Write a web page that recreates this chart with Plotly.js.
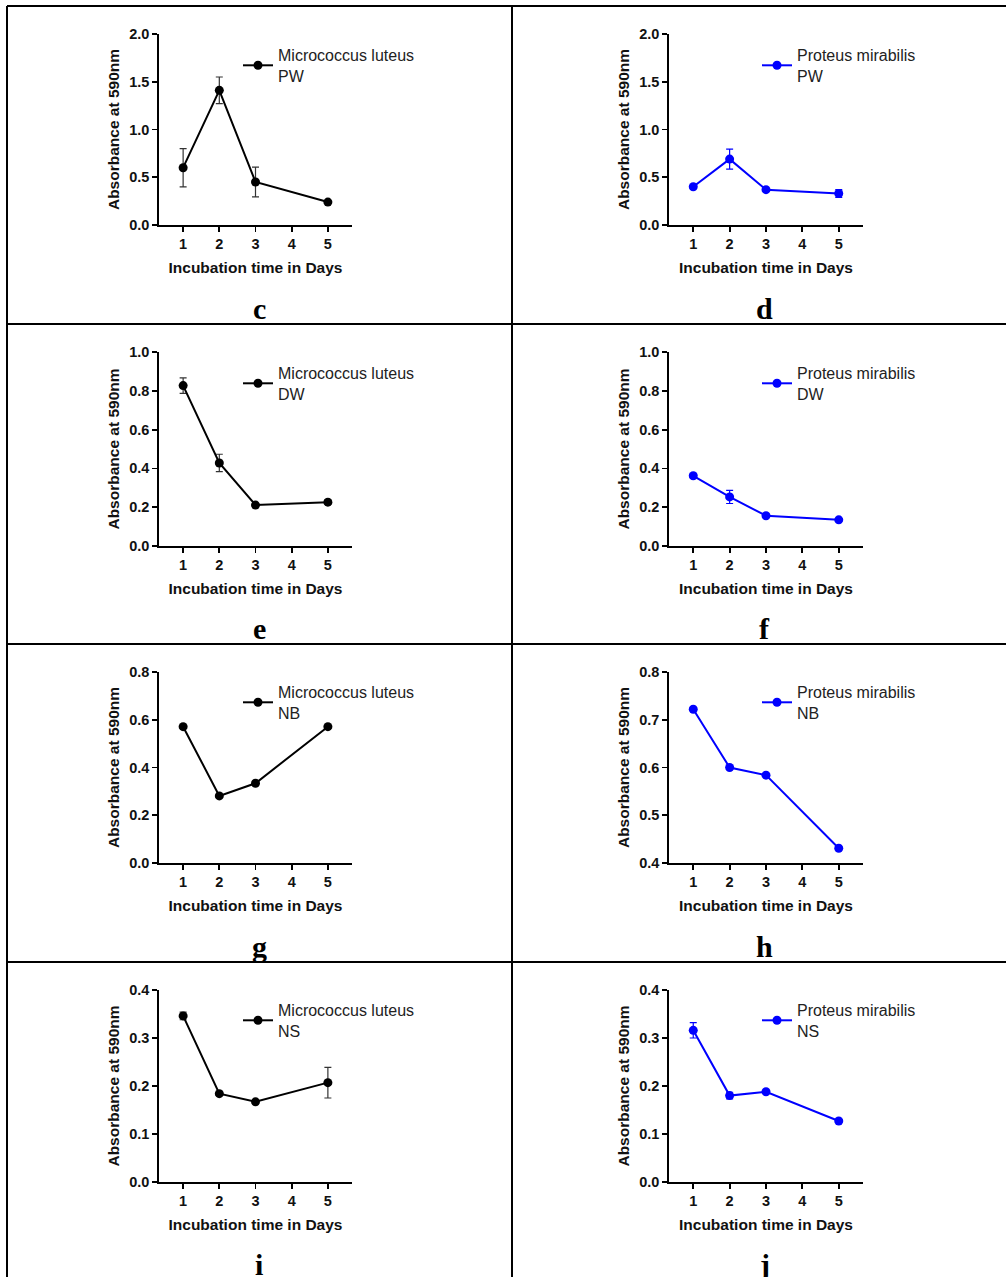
<!DOCTYPE html>
<html>
<head>
<meta charset="utf-8">
<script src="https://cdn.plot.ly/plotly-3.0.1.min.js"></script>
<style>html,body{margin:0;padding:0;background:#fff;}#chart{width:1006px;height:1277px;}</style>
</head>
<body>
<div id="chart"></div>
<script>
// ---- data ----
const days = [1, 2, 3, 5];
const dayTicks = [1, 2, 3, 4, 5];
const dayTickText = ["1", "2", "3", "4", "5"];

const mlPW = [0.60, 1.41, 0.45, 0.24];
const mlPWerr = [0.20, 0.14, 0.155, 0.01];
const pmPW = [0.40, 0.69, 0.37, 0.33];
const pmPWerr = [0.01, 0.105, 0.015, 0.04];

const mlDW = [0.827, 0.428, 0.211, 0.226];
const mlDWerr = [0.04, 0.045, 0.005, 0.012];
const pmDW = [0.362, 0.253, 0.156, 0.135];
const pmDWerr = [0.01, 0.034, 0.008, 0.006];

const mlNB = [0.571, 0.281, 0.334, 0.571];
const mlNBerr = [0, 0, 0, 0];
const pmNB = [0.722, 0.600, 0.584, 0.431];
const pmNBerr = [0, 0, 0, 0];

const mlNS = [0.346, 0.184, 0.167, 0.207];
const mlNSerr = [0.008, 0.003, 0.002, 0.032];
const pmNS = [0.316, 0.180, 0.188, 0.127];
const pmNSerr = [0.016, 0.007, 0.003, 0.003];

const seriesNames = ["Micrococcus luteus<br>PW", "Proteus mirabilis<br>PW",
                     "Micrococcus luteus<br>DW", "Proteus mirabilis<br>DW",
                     "Micrococcus luteus<br>NB", "Proteus mirabilis<br>NB",
                     "Micrococcus luteus<br>NS", "Proteus mirabilis<br>NS"];
const panelLetters = ["c", "d", "e", "f", "g", "h", "i", "j"];
const yRanges = [[0, 2], [0, 2], [0, 1], [0, 1], [0, 0.8], [0.4, 0.8], [0, 0.4], [0, 0.4]];
const yDticks = [0.5, 0.5, 0.2, 0.2, 0.2, 0.1, 0.1, 0.1];
const yValues = [mlPW, pmPW, mlDW, pmDW, mlNB, pmNB, mlNS, pmNS];
const yErrors = [mlPWerr, pmPWerr, mlDWerr, pmDWerr, mlNBerr, pmNBerr, mlNSerr, pmNSerr];
const xTitle = "Incubation time in Days";
const yTitle = "Absorbance at 590nm";

// ---- layout helpers ----
const W = 1006, H = 1277;
const px = v => v / W;
const py = v => 1 - v / H;
const colX = [[159, 352], [669, 863]];
const rowY = [[34, 225], [352, 546], [672, 863], [990, 1182]];
const legendTextX = [278, 797];
const legendTop = [38, 356, 675, 993];
const letterY = [309, 628, 946, 1264];
const letterX = [259, 764];
const colors = ["#000000", "#0000ff"];
const errColors = ["#333333", "#0000ff"];
const FONT = "Arial, 'Liberation Sans', sans-serif";

const traces = [];
const layout = {
  width: W, height: H,
  margin: {l: 0, r: 0, t: 0, b: 0},
  paper_bgcolor: "#fff", plot_bgcolor: "rgba(0,0,0,0)",
  font: {family: FONT, color: "#111"},
  showlegend: true,
  shapes: [], annotations: []
};

for (let i = 0; i < 8; i++) {
  const col = i % 2, row = Math.floor(i / 2);
  const n = i + 1;
  const xa = n === 1 ? "xaxis" : "xaxis" + n;
  const ya = n === 1 ? "yaxis" : "yaxis" + n;
  const lg = n === 1 ? "legend" : "legend" + n;
  traces.push({
    type: "scatter", mode: "lines+markers",
    x: days, y: yValues[i],
    xaxis: "x" + (n === 1 ? "" : n), yaxis: "y" + (n === 1 ? "" : n),
    name: seriesNames[i], legend: lg,
    line: {color: colors[col], width: 2},
    marker: {color: colors[col], size: 9},
    error_y: {type: "data", array: yErrors[i], visible: true,
              color: errColors[col], thickness: 1.2, width: 3.5},
    hoverinfo: "skip"
  });
  layout[xa] = {
    domain: [px(colX[col][0]), px(colX[col][1])],
    anchor: "y" + (n === 1 ? "" : n),
    range: [1 / 3, 5 + 2 / 3], fixedrange: true,
    tickmode: "array", tickvals: dayTicks, ticktext: dayTickText,
    showline: true, linecolor: "#000", linewidth: 1.8,
    ticks: "outside", ticklen: 5, tickwidth: 1.8, tickcolor: "#000",
    showgrid: false, zeroline: false,
    tickfont: {family: FONT, size: 14.5, weight: 700, color: "#111"},
    title: {text: xTitle, font: {family: FONT, size: 15.5, weight: 700, color: "#111"}, standoff: 11}
  };
  layout[ya] = {
    domain: [py(rowY[row][1]), py(rowY[row][0])],
    anchor: "x" + (n === 1 ? "" : n),
    range: yRanges[i], dtick: yDticks[i], tick0: 0, tickformat: ".1f", fixedrange: true,
    showline: true, linecolor: "#000", linewidth: 1.8,
    ticks: "outside", ticklen: 5, tickwidth: 1.8, tickcolor: "#000",
    showgrid: false, zeroline: false,
    tickfont: {family: FONT, size: 14.5, weight: 700, color: "#111"},
    title: {text: yTitle, font: {family: FONT, size: 15.5, weight: 700, color: "#111"}, standoff: 6}
  };
  layout[lg] = {
    x: px(legendTextX[col] - 40), xanchor: "left",
    y: py(legendTop[row]), yanchor: "top",
    bgcolor: "rgba(0,0,0,0)", borderwidth: 0,
    valign: "middle",
    font: {family: FONT, size: 16, color: "#222"}
  };
  layout.annotations.push({
    xref: "paper", yref: "paper", x: px(letterX[col]), y: py(letterY[row]),
    xanchor: "center", yanchor: "middle", showarrow: false,
    text: panelLetters[i],
    font: {family: "'Times New Roman', 'Liberation Serif', serif", size: 30, weight: 700, color: "#000"}
  });
}

// table borders
const lineStyle = {color: "#000", width: 2};
[6, 324, 644, 962].forEach(yv => layout.shapes.push({
  type: "line", xref: "paper", yref: "paper", x0: px(7), x1: 1, y0: py(yv), y1: py(yv), line: lineStyle
}));
[7, 512].forEach(xv => layout.shapes.push({
  type: "line", xref: "paper", yref: "paper", x0: px(xv), x1: px(xv), y0: py(6), y1: 0, line: lineStyle
}));

Plotly.newPlot("chart", traces, layout, {staticPlot: true, displayModeBar: false});
</script>
</body>
</html>
